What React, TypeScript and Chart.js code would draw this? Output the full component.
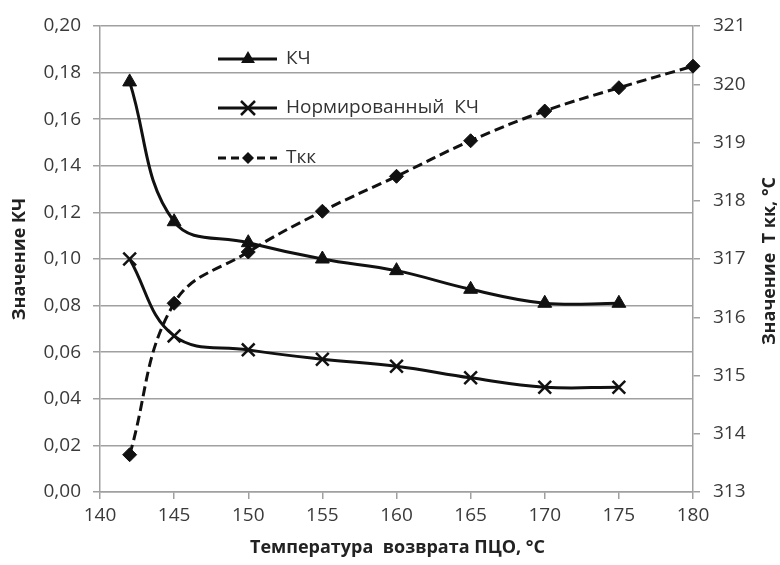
import React, { useEffect, useRef } from 'react';
import { Chart, registerables } from 'chart.js';
Chart.register(...registerables);

const xKch = [142, 145, 150, 155, 160, 165, 170, 175];
const kch = [0.176, 0.116, 0.107, 0.1, 0.095, 0.087, 0.081, 0.081];
const normKch = [0.1, 0.067, 0.061, 0.057, 0.054, 0.049, 0.045, 0.045];
const xTkk = [142, 145, 150, 155, 160, 165, 170, 175, 180];
const tkk = [313.64, 316.24, 317.12, 317.82, 318.42, 319.03, 319.54, 319.94, 320.31];
const seriesNames = ['КЧ', 'Нормированный  КЧ', 'Ткк'];
const xTitle = 'Температура  возврата ПЦО, °С';
const yLeftTitle = 'Значение КЧ';
const yRightTitle = 'Значение  Т кк, °С';

const FONT = "'Open Sans', sans-serif";
const INK = '#111111';
const GRID = '#a0a0a0';
const TICK = '#3a3a3a';

function drawMarker(ctx: CanvasRenderingContext2D, kind: string, x: number, y: number) {
  ctx.save();
  ctx.setLineDash([]);
  ctx.fillStyle = INK;
  ctx.strokeStyle = INK;
  if (kind === 'tri') {
    const r = 8;
    ctx.beginPath();
    ctx.moveTo(x, y - r);
    ctx.lineTo(x + r * 0.87, y + r * 0.5);
    ctx.lineTo(x - r * 0.87, y + r * 0.5);
    ctx.closePath();
    ctx.fill();
  } else if (kind === 'x') {
    const r = 7;
    ctx.lineWidth = 2.5;
    ctx.beginPath();
    ctx.moveTo(x - r, y - r);
    ctx.lineTo(x + r, y + r);
    ctx.moveTo(x + r, y - r);
    ctx.lineTo(x - r, y + r);
    ctx.stroke();
  } else {
    const r = 6;
    ctx.beginPath();
    ctx.moveTo(x, y - r);
    ctx.lineTo(x + r, y);
    ctx.lineTo(x, y + r);
    ctx.lineTo(x - r, y);
    ctx.closePath();
    ctx.fill();
  }
  ctx.restore();
}

const overlay = {
  id: 'overlay',
  afterDatasetsDraw(chart: any) {
    const ctx: CanvasRenderingContext2D = chart.ctx;
    const items = [
      { y: 59, kind: 'tri', dash: [] as number[] },
      { y: 108, kind: 'x', dash: [] as number[] },
      { y: 158, kind: 'dia', dash: [8, 5] },
    ];
    items.forEach((it, i) => {
      ctx.save();
      ctx.strokeStyle = INK;
      ctx.lineWidth = 3;
      ctx.setLineDash(it.dash);
      ctx.beginPath();
      ctx.moveTo(218, it.y);
      ctx.lineTo(277, it.y);
      ctx.stroke();
      ctx.restore();
      drawMarker(ctx, it.kind, 248, it.y);
      ctx.save();
      ctx.fillStyle = '#333333';
      ctx.font = `19px ${FONT}`;
      ctx.textBaseline = 'middle';
      ctx.textAlign = 'left';
      ctx.fillText(seriesNames[i], 286, it.y);
      ctx.restore();
    });
  },
  afterDraw(chart: any) {
    const ctx: CanvasRenderingContext2D = chart.ctx;
    const a = chart.chartArea;
    ctx.save();
    ctx.fillStyle = '#222222';
    ctx.font = `bold 18px ${FONT}`;
    ctx.textAlign = 'center';
    ctx.textBaseline = 'middle';
    ctx.fillText(xTitle, (a.left + a.right) / 2 + 1, 548);
    ctx.translate(20, 259);
    ctx.rotate(-Math.PI / 2);
    ctx.fillText(yLeftTitle, 0, 0);
    ctx.restore();
    ctx.save();
    ctx.fillStyle = '#222222';
    ctx.font = `bold 18px ${FONT}`;
    ctx.textAlign = 'center';
    ctx.textBaseline = 'middle';
    ctx.translate(770, 261);
    ctx.rotate(-Math.PI / 2);
    ctx.fillText(yRightTitle, 0, 0);
    ctx.restore();
  },
};

export default function App() {
  const ref = useRef<HTMLCanvasElement>(null);
  useEffect(() => {
    document.body.style.margin = '0';
    const chart = new Chart(ref.current!, {
      type: 'line',
      data: {
        datasets: [
          {
            label: seriesNames[0],
            data: xKch.map((x, i) => ({ x, y: kch[i] })),
            yAxisID: 'y',
            borderColor: INK,
            backgroundColor: INK,
            borderWidth: 3,
            tension: 0.4,
            pointStyle: 'triangle',
            pointRadius: 8,
            pointBorderWidth: 1,
            clip: false,
          },
          {
            label: seriesNames[1],
            data: xKch.map((x, i) => ({ x, y: normKch[i] })),
            yAxisID: 'y',
            borderColor: INK,
            backgroundColor: INK,
            borderWidth: 3,
            tension: 0.4,
            pointStyle: 'crossRot',
            pointRadius: 9,
            pointBorderWidth: 2.5,
            clip: false,
          },
          {
            label: seriesNames[2],
            data: xTkk.map((x, i) => ({ x, y: tkk[i] })),
            yAxisID: 'y1',
            borderColor: INK,
            backgroundColor: INK,
            borderWidth: 3,
            borderDash: [10, 5],
            tension: 0.4,
            pointStyle: 'rectRot',
            pointRadius: 7,
            pointBorderWidth: 1,
            clip: false,
          },
        ],
      },
      options: {
        animation: false,
        responsive: false,
        layout: { padding: { top: 26, left: 0, right: 0, bottom: 0 } },
        plugins: { legend: { display: false }, tooltip: { enabled: false } },
        scales: {
          x: {
            type: 'linear',
            min: 140,
            max: 180,
            ticks: { stepSize: 5, color: TICK, font: { family: FONT, size: 19 }, padding: 5 },
            grid: { drawOnChartArea: false, color: GRID, lineWidth: 1.5, tickLength: 7 },
            border: { color: GRID, width: 1.5 },
            afterFit: (s: any) => { s.height = 73; },
          },
          y: {
            position: 'left',
            min: 0,
            max: 0.2,
            ticks: {
              stepSize: 0.02,
              color: TICK,
              font: { family: FONT, size: 19 },
              padding: 12,
              callback: (v: any) => Number(v).toFixed(2).replace('.', ','),
            },
            grid: { color: GRID, lineWidth: 1.5, tickLength: 7 },
            border: { color: GRID, width: 1.5 },
            afterFit: (s: any) => { s.width = 100; },
          },
          y1: {
            position: 'right',
            min: 313,
            max: 321,
            ticks: { stepSize: 1, color: TICK, font: { family: FONT, size: 19 }, padding: 13 },
            grid: { drawOnChartArea: false, color: GRID, lineWidth: 1.5, tickLength: 7 },
            border: { color: GRID, width: 1.5 },
            afterFit: (s: any) => { s.width = 87; },
          },
        },
      },
      plugins: [overlay],
    });
    return () => chart.destroy();
  }, []);
  return <canvas ref={ref} width={780} height={565} style={{ display: 'block' }} />;
}
